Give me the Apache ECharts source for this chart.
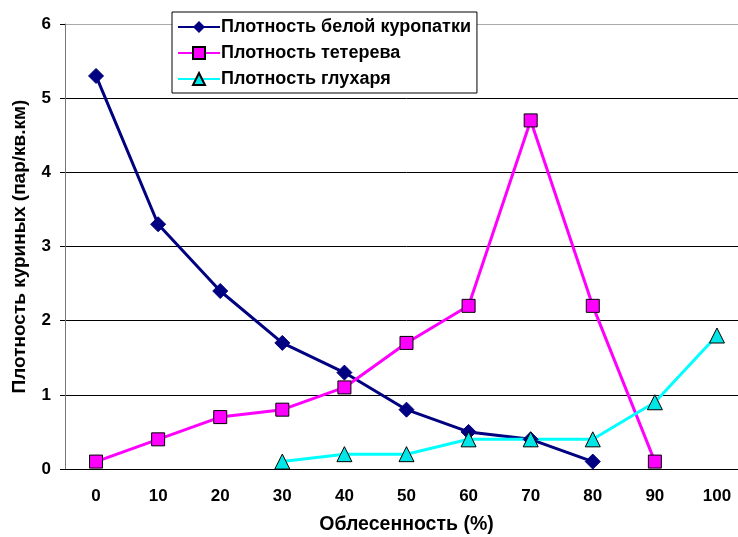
<!DOCTYPE html>
<html><head><meta charset="utf-8">
<script src="https://cdn.jsdelivr.net/npm/echarts@6/dist/echarts.min.js"></script>
<style>html,body{margin:0;padding:0;background:#fff;overflow:hidden;width:738px;height:537px}#c{width:750px;height:537px}</style>
</head><body><div id="c"></div>
<script>
const categories = ['0','10','20','30','40','50','60','70','80','90','100'];
const ptarmigan = [5.3, 3.3, 2.4, 1.7, 1.3, 0.8, 0.5, 0.4, 0.1, null, null];
const blackGrouse = [0.1, 0.4, 0.7, 0.8, 1.1, 1.7, 2.2, 4.7, 2.2, 0.1, null];
const capercaillie = [null, null, null, 0.1, 0.2, 0.2, 0.4, 0.4, 0.4, 0.9, 1.8];
const seriesNames = ['Плотность белой куропатки', 'Плотность тетерева', 'Плотность глухаря'];
const xTitle = 'Облесенность (%)';
const yTitle = 'Плотность куриных (пар/кв.км)';

const font = 'Liberation Sans, Arial, sans-serif';
const chart = echarts.init(document.getElementById('c'));
chart.setOption({
  animation: false,
  backgroundColor: '#fff',
  grid: { left: 65, right: 2, top: 24, bottom: 68, outerBoundsMode: 'none', containLabel: false },
  legend: {
    orient: 'vertical', left: 172, top: 12,
    backgroundColor: '#fff', borderColor: '#000', borderWidth: 1,
    padding: [6, 6, 5, 5], itemGap: 8, itemWidth: 42, itemHeight: 15,
    textStyle: { fontFamily: font, fontSize: 18, fontWeight: 'bold', color: '#000', padding: [0, 0, 0, -4] },
    data: seriesNames
  },
  xAxis: {
    type: 'category', data: categories, boundaryGap: true,
    name: xTitle, nameLocation: 'middle', nameGap: 46,
    nameTextStyle: { fontFamily: font, fontSize: 19.5, fontWeight: 'bold', color: '#000' },
    axisLine: { lineStyle: { color: '#000', width: 1 } },
    axisTick: { alignWithLabel: false, length: 5, lineStyle: { color: '#000' } },
    axisLabel: { fontFamily: font, fontSize: 17, fontWeight: 'bold', color: '#000', margin: 19 },
    splitLine: { show: false }
  },
  yAxis: {
    type: 'value', min: 0, max: 6, interval: 1,
    name: yTitle, nameLocation: 'middle', nameGap: 36, nameRotate: 90,
    nameTextStyle: { fontFamily: font, fontSize: 19, fontWeight: 'bold', color: '#000' },
    axisLine: { show: true, lineStyle: { color: '#777', width: 1 } },
    axisTick: { show: true, length: 5, lineStyle: { color: '#000' } },
    axisLabel: { fontFamily: font, fontSize: 17, fontWeight: 'bold', color: '#000', margin: 14 },
    splitLine: { show: true, lineStyle: { color: ['#000','#000','#000','#000','#000','#000','#aaa'], width: 1 } }
  },
  series: [
    { name: seriesNames[0], type: 'line', data: ptarmigan, symbol: 'diamond', symbolSize: 15,
      lineStyle: { color: '#000080', width: 3 }, itemStyle: { color: '#000080', borderColor: '#000080' } },
    { name: seriesNames[1], type: 'line', data: blackGrouse, symbol: 'rect', symbolSize: 13,
      lineStyle: { color: '#ff00ff', width: 3 }, itemStyle: { color: '#ff00ff', borderColor: '#000', borderWidth: 1 } },
    { name: seriesNames[2], type: 'line', data: capercaillie, symbol: 'triangle', symbolSize: 15,
      lineStyle: { color: '#00ffff', width: 3 }, itemStyle: { color: '#00e5e5', borderColor: '#000', borderWidth: 1 } }
  ]
});
</script></body></html>
